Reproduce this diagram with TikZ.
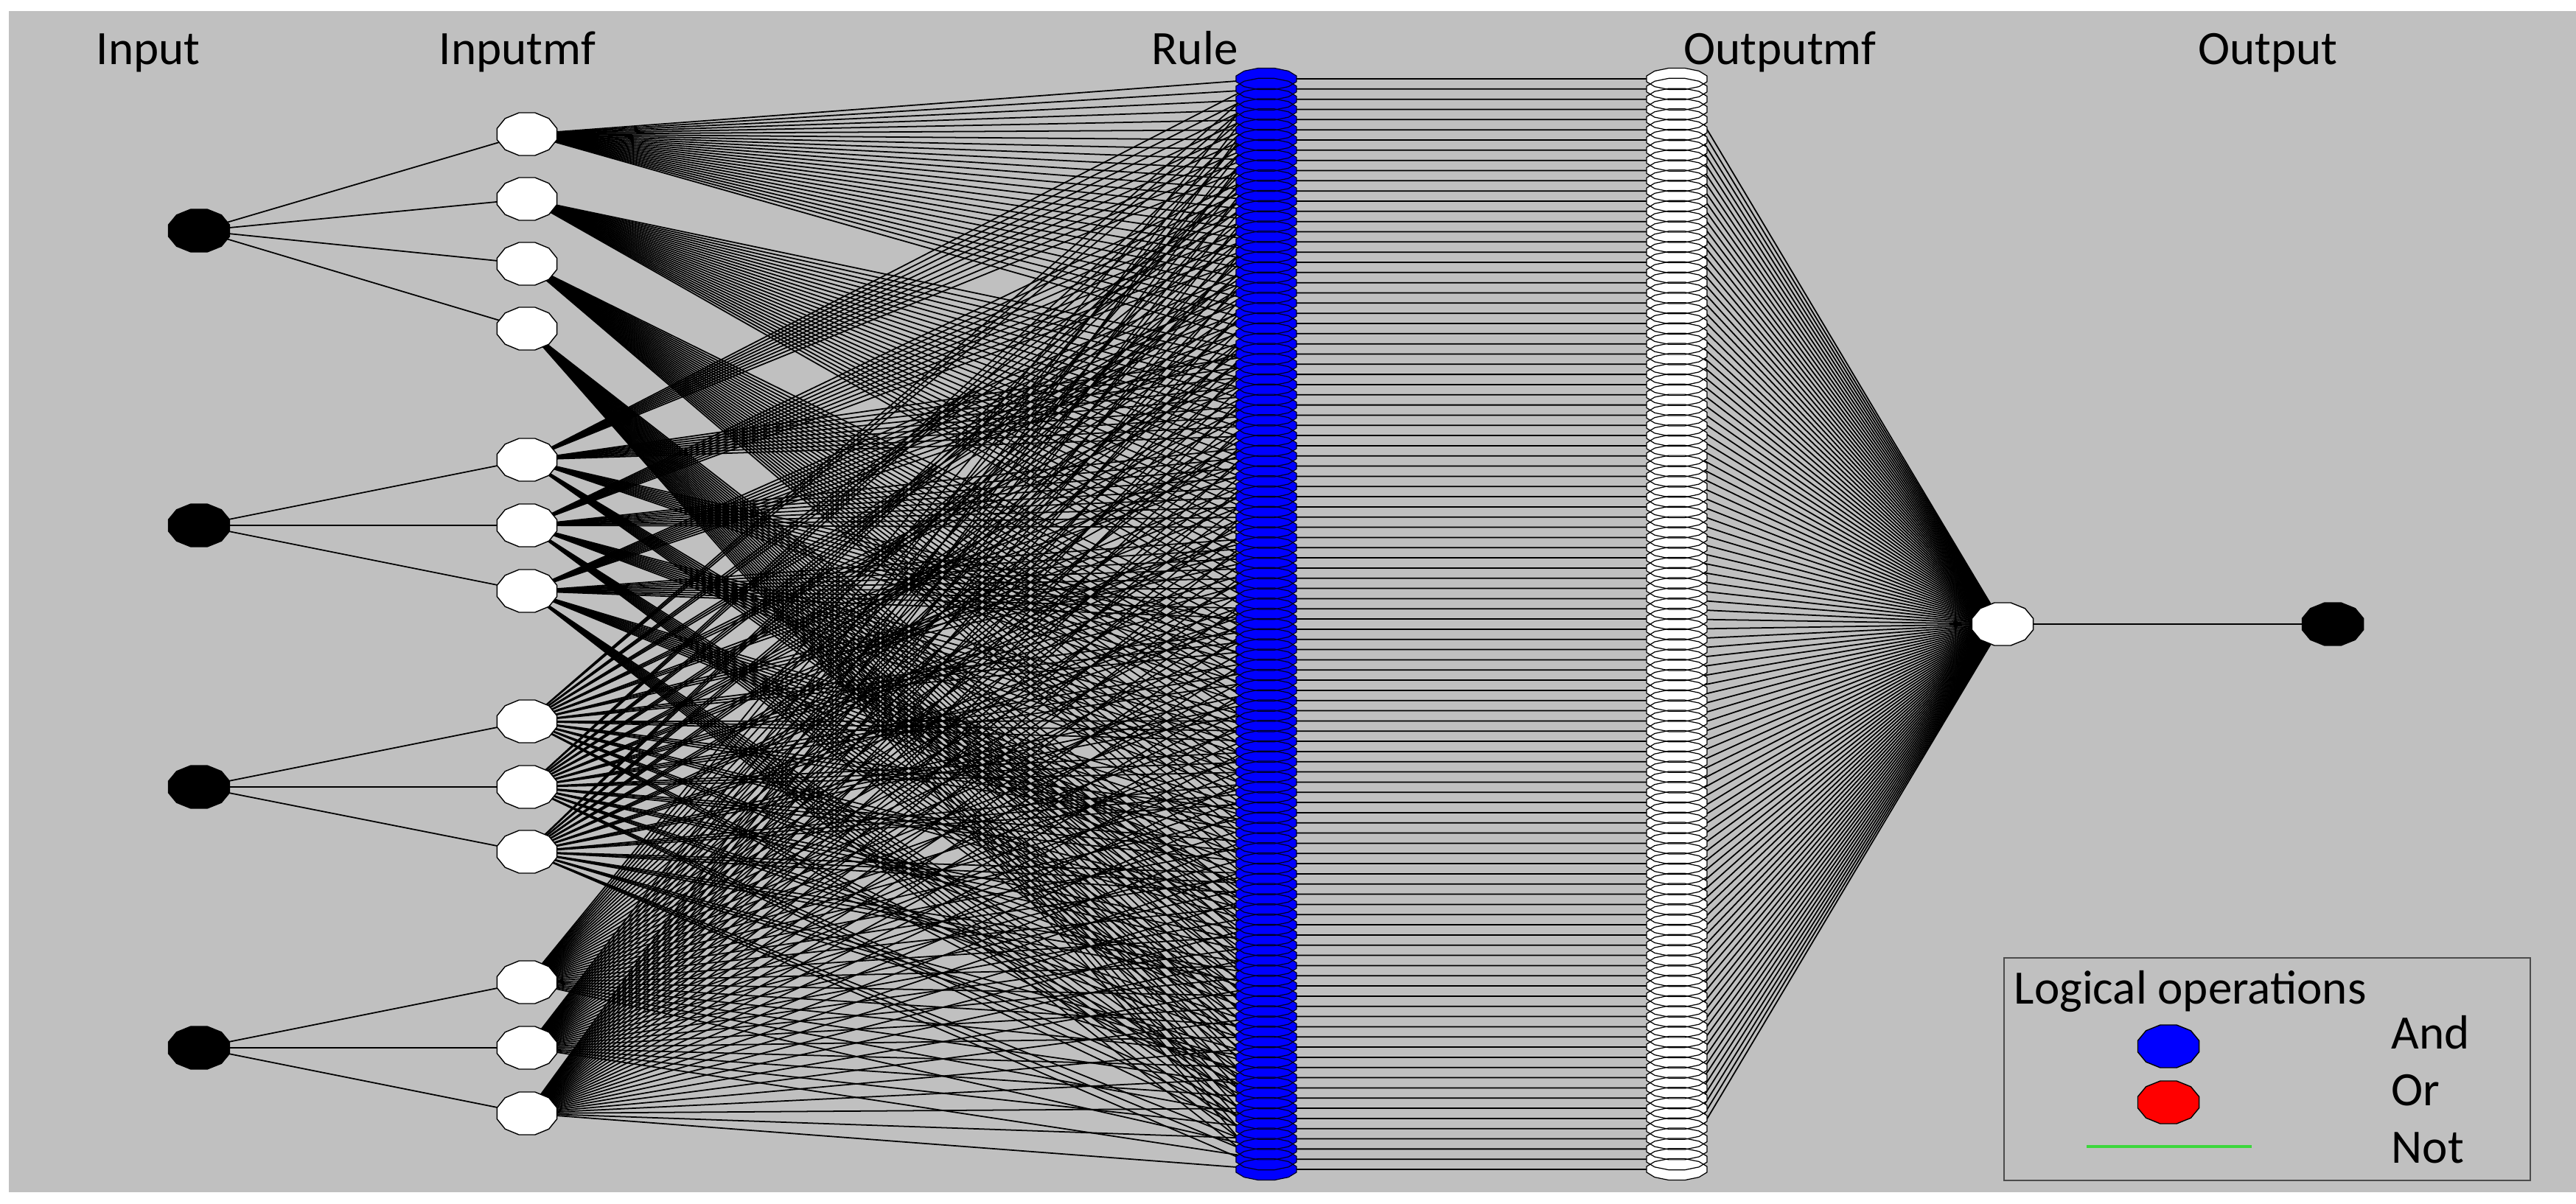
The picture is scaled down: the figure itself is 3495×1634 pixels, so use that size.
\documentclass[tikz,border=0pt]{standalone}
\usepackage{fontspec}
\setmainfont{Carlito}
\definecolor{bggray}{RGB}{192,192,192}
\definecolor{notgreen}{RGB}{60,215,60}
\newcommand{\polyShape}[5]{%
  \path[#5] plot[samples=13,domain=15:375,variable=\t] ({#1+#3*cos(\t)},{#2+#4*sin(\t)}) -- cycle;}
\begin{document}
\begin{tikzpicture}[x=0.01cm,y=-0.01cm,
  conn/.style={line width=0.5pt,draw=black},
  lbl/.style={anchor=base,inner sep=0pt,font=\fontsize{18.5}{22}\selectfont},
  lgd/.style={anchor=base west,inner sep=0pt,font=\fontsize{18.5}{22}\selectfont},
  whitenode/.style={fill=white,draw=black,line width=0.4pt},
  blacknode/.style={fill=black,draw=black,line width=0.4pt}]
\useasboundingbox (0,0) rectangle (3495,1634);
\fill[bggray] (12,15) rectangle (3495,1618);
% ---- coordinates
\foreach \n/\y in {1/313,2/713,3/1068,4/1422} \coordinate (in\n) at (270,\y);
\foreach \n/\y in {1/182,2/270,3/358,4/446} \coordinate (ma\n) at (715,\y);
\foreach \n/\y in {1/624,2/713,3/802} \coordinate (mb\n) at (715,\y);
\foreach \n/\y in {1/979,2/1068,3/1156} \coordinate (mc\n) at (715,\y);
\foreach \n/\y in {1/1333,2/1422,3/1511} \coordinate (md\n) at (715,\y);
\foreach \i in {0,...,107}{%
  \pgfmathsetmacro\yy{107+\i*13.832}
  \coordinate (r\i) at (1718,\yy);
  \coordinate (om\i) at (2275,\yy);}
\coordinate (agg) at (2717,847);
\coordinate (out) at (3165,847);
% ---- connectors
\foreach \i in {0,...,107}{%
  \pgfmathtruncatemacro\a{floor(\i/27)+1}
  \pgfmathtruncatemacro\b{mod(floor(\i/9),3)+1}
  \pgfmathtruncatemacro\c{mod(floor(\i/3),3)+1}
  \pgfmathtruncatemacro\d{mod(\i,3)+1}
  \draw[conn] (ma\a) -- (r\i) (mb\b) -- (r\i) (mc\c) -- (r\i) (md\d) -- (r\i)
              (r\i) -- (om\i) (om\i) -- (agg);}
\foreach \k in {1,...,4} \draw[conn] (in1) -- (ma\k);
\foreach \k in {1,2,3} \draw[conn] (in2) -- (mb\k) (in3) -- (mc\k) (in4) -- (md\k);
\draw[conn] (agg) -- (out);
% ---- nodes
\foreach \y in {313,713,1068,1422} \polyShape{270}{\y}{43}{30}{blacknode};
\foreach \y in {182,270,358,446,624,713,802,979,1068,1156,1333,1422,1511}
  \polyShape{715}{\y}{42}{30}{whitenode};
\foreach \i in {0,...,107}{\pgfmathsetmacro\yy{107+\i*13.832}\polyShape{1718}{\yy}{42.5}{15}{fill=blue}}
\foreach \i in {0,...,107}{\pgfmathsetmacro\yy{107+\i*13.832}\polyShape{1718}{\yy}{42.5}{15}{draw=black!85!blue,line width=0.35pt}}
\foreach \i in {0,...,107}{\pgfmathsetmacro\yy{107+\i*13.832}\polyShape{2275}{\yy}{42.5}{15}{fill=white}}
\foreach \i in {0,...,107}{\pgfmathsetmacro\yy{107+\i*13.832}\polyShape{2275}{\yy}{42.5}{15}{draw=black,line width=0.35pt}}
\polyShape{2717}{847}{43}{30}{whitenode};
\polyShape{3165}{847}{43}{30}{blacknode};
% ---- labels
\node[lbl] (tInput) at (201,88) {Input};
\node[lbl] (tInputmf) at (702,88) {Inputmf};
\node[lbl] (tRule) at (1621,88) {Rule};
\node[lbl] (tOutputmf) at (2415,88) {Outputmf};
\node[lbl] (tOutput) at (3077,88) {Output};
% ---- legend
\draw[line width=0.6pt,draw=black!70] (2719,1300) rectangle (3433,1602);
\node[lgd] (lgTitle) at (2732,1362) {Logical operations};
\polyShape{2942}{1420}{43}{30}{fill=blue,draw=black,line width=0.4pt};
\polyShape{2942}{1496}{43}{30}{fill=red,draw=black,line width=0.4pt};
\draw[notgreen,line width=1.1pt] (2831,1556) -- (3055,1556);
\node[lgd] (lgAnd) at (3244,1423) {And};
\node[lgd] (lgOr) at (3244,1500) {Or};
\node[lgd] (lgNot) at (3244,1578) {Not};
\end{tikzpicture}
\end{document}
